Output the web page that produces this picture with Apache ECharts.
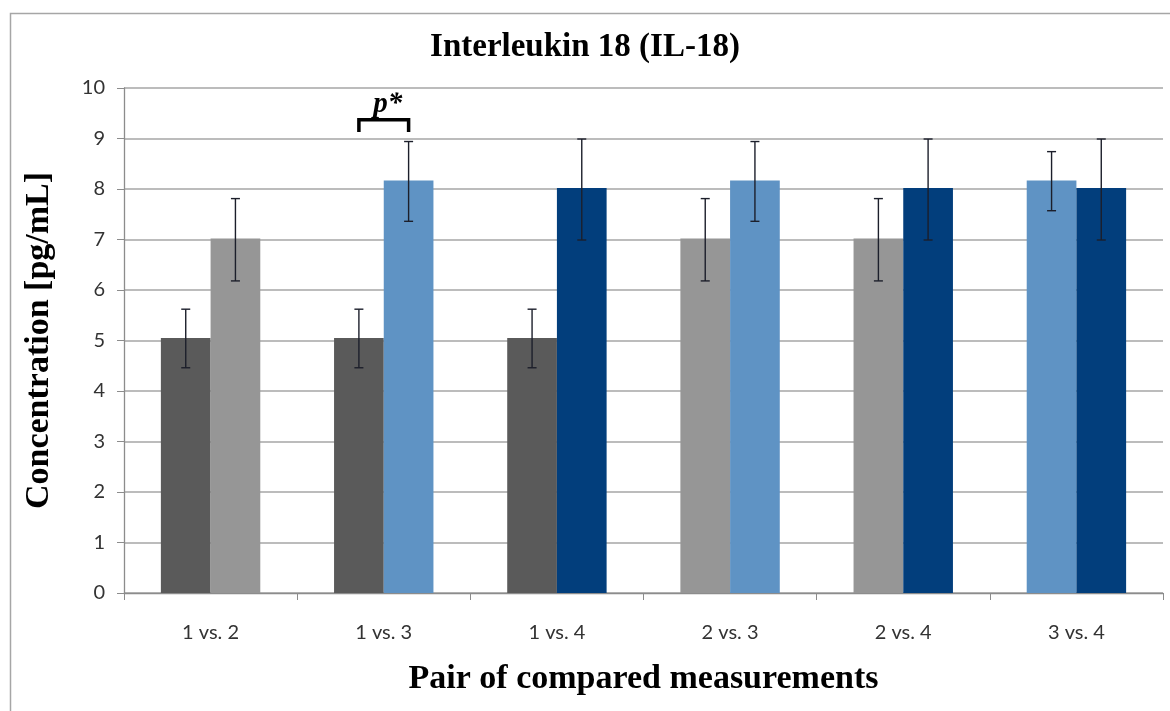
<!DOCTYPE html>
<html><head><meta charset="utf-8">
<script src="https://cdn.jsdelivr.net/npm/echarts@6/dist/echarts.min.js"></script>
<style>html,body{margin:0;padding:0;background:#fff}#c{width:1170px;height:711px}</style>
</head><body><div id="c"></div>
<script>
const categories = ['1 vs. 2', '1 vs. 3', '1 vs. 4', '2 vs. 3', '2 vs. 4', '3 vs. 4'];
const leftMeasurement = [1, 1, 1, 2, 2, 3];
const rightMeasurement = [2, 3, 4, 3, 4, 4];
const leftValues = [5.05, 5.05, 5.05, 7.02, 7.02, 8.17];
const leftErrLow = [4.46, 4.46, 4.46, 6.18, 6.18, 7.57];
const leftErrHigh = [5.62, 5.62, 5.62, 7.81, 7.81, 8.74];
const rightValues = [7.02, 8.17, 8.02, 8.17, 8.02, 8.02];
const rightErrLow = [6.18, 7.36, 6.99, 7.36, 6.99, 6.99];
const rightErrHigh = [7.81, 8.94, 8.99, 8.94, 8.99, 8.99];
const measurementColors = {1: '#5a5a5a', 2: '#969696', 3: '#5f93c4', 4: '#023e7c'};
const yMin = 0, yMax = 10, yInterval = 1;
const sigCategory = 1, sigTop = 9.37, sigBottom = 9.13, sigLabel = 'p*';

const BAR_W = 0.287; // fraction of band
const chart = echarts.init(document.getElementById('c'));

function errRender(side) {
  return function (params, api) {
    const band = api.size([1, 0])[0];
    const off = side * band * BAR_W / 2;
    const lo = api.coord([api.value(0), api.value(1)]);
    const hi = api.coord([api.value(0), api.value(2)]);
    const x = lo[0] + off, cap = 4.5;
    const st = {stroke: '#1c1f2b', lineWidth: 1.4};
    return {type: 'group', children: [
      {type: 'line', shape: {x1: x, y1: lo[1], x2: x, y2: hi[1]}, style: st},
      {type: 'line', shape: {x1: x - cap, y1: lo[1], x2: x + cap, y2: lo[1]}, style: st},
      {type: 'line', shape: {x1: x - cap, y1: hi[1], x2: x + cap, y2: hi[1]}, style: st}
    ]};
  };
}

chart.setOption({
  animation: false,
  backgroundColor: '#fff',
  graphic: [{type: 'rect', left: 8, top: 11, shape: {width: 1300, height: 900},
    style: {fill: 'none', stroke: '#a6a6a6', lineWidth: 1.5}, silent: true, z: -1}],
  title: {text: 'Interleukin 18 (IL-18)', left: 'center', top: 26,
    textStyle: {fontFamily: 'Liberation Serif', fontWeight: 'bold', fontSize: 33, color: '#000'}},
  grid: {left: 124, right: 7, top: 88, bottom: 118},
  xAxis: {type: 'category', data: categories,
    name: 'Pair of compared measurements', nameLocation: 'middle', nameGap: 69,
    nameTextStyle: {fontFamily: 'Liberation Serif', fontWeight: 'bold', fontSize: 34, color: '#000'},
    axisLine: {lineStyle: {color: '#8c8c8c', width: 1.3}},
    axisTick: {show: true, length: 7, lineStyle: {color: '#8c8c8c'}},
    axisLabel: {fontFamily: 'Lato', fontSize: 20, color: '#333', margin: 30}},
  yAxis: {type: 'value', min: yMin, max: yMax, interval: yInterval,
    name: 'Concentration [pg/mL]', nameLocation: 'middle', nameGap: 68,
    nameTextStyle: {fontFamily: 'Liberation Serif', fontWeight: 'bold', fontSize: 34, color: '#000'},
    axisLine: {show: true, lineStyle: {color: '#8c8c8c', width: 1.3}},
    axisTick: {show: true, length: 7, lineStyle: {color: '#8c8c8c'}},
    splitLine: {lineStyle: {color: '#a6a6a6', width: 1.5}},
    axisLabel: {fontFamily: 'Lato', fontSize: 20, color: '#333', margin: 19}},
  series: [
    {type: 'bar', barWidth: (BAR_W * 100) + '%', barGap: '0%',
      data: leftValues.map((v, i) => ({value: v, itemStyle: {color: measurementColors[leftMeasurement[i]]}}))},
    {type: 'bar', barWidth: (BAR_W * 100) + '%', barGap: '0%',
      data: rightValues.map((v, i) => ({value: v, itemStyle: {color: measurementColors[rightMeasurement[i]]}}))},
    {type: 'custom', renderItem: errRender(-1), clip: false, z: 10,
      data: categories.map((c, i) => [i, leftErrLow[i], leftErrHigh[i]])},
    {type: 'custom', renderItem: errRender(1), clip: false, z: 10,
      data: categories.map((c, i) => [i, rightErrLow[i], rightErrHigh[i]])},
    {type: 'custom', clip: false, z: 11,
      data: [[sigCategory, sigTop, sigBottom]],
      renderItem: function (params, api) {
        const band = api.size([1, 0])[0];
        const off = band * BAR_W / 2;
        const t = api.coord([api.value(0), api.value(1)]);
        const b = api.coord([api.value(0), api.value(2)]);
        const xl = t[0] - off, xr = t[0] + off;
        return {type: 'group', children: [
          {type: 'polyline', shape: {points: [[xl, b[1]], [xl, t[1]], [xr, t[1]], [xr, b[1]]]},
            style: {stroke: '#000', lineWidth: 3.5, fill: 'none'}},
          {type: 'text', x: t[0] + 4, y: t[1] - 1, style: {text: sigLabel, align: 'center', verticalAlign: 'bottom',
            font: 'italic bold 29px "Liberation Serif"', fill: '#000'}}
        ]};
      }}
  ]
});
</script></body></html>
